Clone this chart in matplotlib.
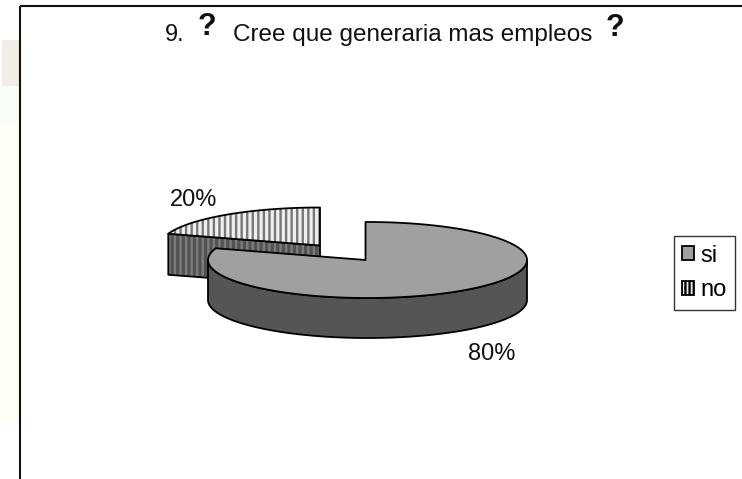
import numpy as np
import matplotlib
matplotlib.use("Agg")
import matplotlib.pyplot as plt
from matplotlib.patches import Polygon, Rectangle, Patch

categories = ["si", "no"]
values = [80, 20]
value_labels = ["80%", "20%"]
title_prefix = "9."
title_body = "Cree que generaria mas empleos"

plt.rcParams["font.family"] = ["Liberation Sans", "DejaVu Sans"]
plt.rcParams["hatch.linewidth"] = 1.7

fig = plt.figure(figsize=(7.42, 4.79), dpi=100, facecolor="white")
ax = fig.add_axes([0, 0, 1, 1])
ax.set_xlim(0, 742)
ax.set_ylim(479, 0)
ax.axis("off")

# faint page tint left of the frame
ax.add_patch(Rectangle((2, 40), 18, 46, fc="#f1ede6", ec="none", zorder=0))
ax.add_patch(Rectangle((0, 86), 20, 37, fc="#f8fdf5", ec="none", zorder=0))
ax.add_patch(Rectangle((0, 123), 20, 300, fc="#fffff8", ec="none", zorder=0))
# frame
ax.plot([20, 20], [479, 5.5], color="#111111", lw=1.5, zorder=1, solid_capstyle="butt")
ax.plot([20, 742], [5.5, 5.5], color="#111111", lw=1.5, zorder=1, solid_capstyle="butt")

RX, RY, DEPTH = 159.5, 38.0, 40.0
total = sum(values)
fractions = [v / total for v in values]


def arc(cx, cy, a0, a1, n=160):
    t = np.radians(np.linspace(a0, a1, n))
    return np.column_stack([cx + RX * np.cos(t), cy - RY * np.sin(t)])


# angles run clockwise from 12 o'clock; the "no" slice fills the rest
a_si0 = 90.0
a_si1 = a_si0 - 360 * fractions[0]
a_no0 = a_si1 + 360
a_no1 = a_no0 - 360 * fractions[1]

outline = dict(edgecolor="black", lw=1.3, joinstyle="round")

# --- exploded "no" slice (behind)
cx2, cy2 = 320.0, 245.5
top2 = arc(cx2, cy2, a_no0, a_no1, 60)
side_pts = [[cx2, cy2], top2[0], top2[0] + [0, 41], [cx2, cy2 + 41]]
ax.add_patch(Polygon(side_pts, closed=True, facecolor="#525252", edgecolor="#7c7c7c",
                     hatch="|||", lw=0, zorder=2))
ax.add_patch(Polygon(side_pts, closed=True, fill=False, zorder=2.1, **outline))
tpoly = np.vstack([[cx2, cy2], top2])
ax.add_patch(Polygon(tpoly, closed=True, facecolor="#efefef", edgecolor="#777777",
                     hatch="|||", lw=0, zorder=2.2))
ax.add_patch(Polygon(tpoly, closed=True, fill=False, zorder=2.3, **outline))

# --- main "si" slice
ex1, ey1 = 367.5, 260.0   # ellipse centre
apex = [365.5, 260.0]
top1 = arc(ex1, ey1, a_si0 - 0.5, a_si1, 300)
wall = np.vstack([arc(ex1, ey1, 180, 360, 160),
                  arc(ex1, ey1 + DEPTH, 360, 180, 160)])
ax.add_patch(Polygon(wall, closed=True, facecolor="#555555", zorder=3, **outline))
ax.add_patch(Polygon(np.vstack([apex, [apex[0], ey1 - RY], top1]), closed=True,
                     facecolor="#a0a0a0", zorder=3.2, **outline))

# --- labels
ax.text(492, 359.5, value_labels[0], fontsize=17, ha="center", va="baseline", color="#111111", zorder=5)
ax.text(194, 205.5, value_labels[1], fontsize=17, ha="center", va="baseline", color="#111111", zorder=5)

# --- title
ax.text(165, 41, title_prefix, fontsize=17, ha="left", va="baseline", color="#111111")
ax.text(198, 34.5, "?", fontsize=22, fontweight="bold", ha="left", va="baseline", color="#111111")
ax.text(233, 41, title_body, fontsize=17.5, ha="left", va="baseline", color="#111111")
ax.text(606, 36, "?", fontsize=22, fontweight="bold", ha="left", va="baseline", color="#111111")

# --- legend
handles = [Patch(facecolor="#a0a0a0", edgecolor="black", lw=1.3, label=categories[0]),
           Patch(facecolor="#efefef", edgecolor="black", lw=1.3, hatch="||||", label=categories[1])]
leg = ax.legend(handles=handles, loc="center left", bbox_to_anchor=(673.5, 273),
                bbox_transform=ax.transData, fontsize=17, frameon=True, fancybox=False,
                edgecolor="#333333", facecolor="white", framealpha=1,
                handlelength=0.5, handleheight=0.5, handletextpad=0.25,
                labelspacing=0.55, borderpad=0.38, borderaxespad=0)
leg.get_frame().set_linewidth(1.0)
leg.set_zorder(6)

fig.savefig("out.png", dpi=100)
